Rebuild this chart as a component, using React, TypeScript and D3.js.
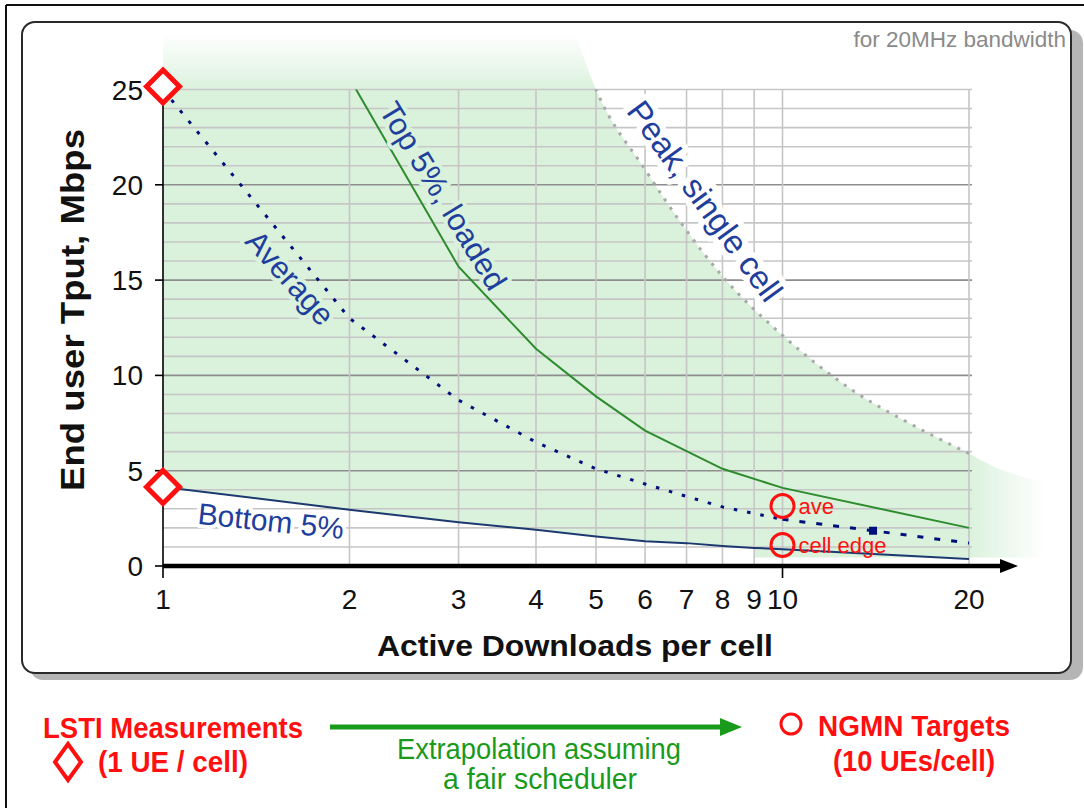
import React from "react";
import * as d3 from "d3";

// ---------- data ----------
const X_TICKS = [1, 2, 3, 4, 5, 6, 7, 8, 9, 10, 20];
const X_GRID = [2, 3, 4, 5, 6, 7, 8, 9, 10, 20];
const Y_TICKS = [0, 5, 10, 15, 20, 25];
const Y_GRID = [1, 2, 3, 4, 5, 6, 7, 8, 9, 10, 11, 12, 13, 14, 15, 16, 17, 18, 19, 20, 21, 22, 23, 24, 25];
const Y_MAJOR = [5, 10, 15, 20];

const avgN = [1, 2, 3, 4, 5, 6, 7, 8, 9, 10, 14, 20];
const avgTput = [25.0, 13.0, 8.7, 6.5, 5.1, 4.3, 3.65, 3.1, 2.75, 2.45, 1.85, 1.2];

const top5N = [2, 3, 4, 5, 6, 8, 10, 20];
const top5Tput = [25.6, 15.7, 11.4, 8.9, 7.1, 5.1, 4.1, 2.0];

const bottom5N = [1, 2, 3, 4, 5, 6, 7, 8, 9, 10, 20];
const bottom5Tput = [4.15, 2.95, 2.3, 1.9, 1.55, 1.3, 1.2, 1.05, 0.95, 0.88, 0.37];

const peakN = [4.62, 5, 6, 7, 8, 10, 13, 16, 20, 22, 25, 27.5];
const peakTput = [28, 25, 20.8, 17.6, 15.2, 12.1, 9.2, 7.5, 5.9, 5.2, 4.6, 4.3];

const envelopeFloorN = [27.5, 9];
const envelopeFloorTput = [0.45, 0.45];

const lstiN = 1;
const lstiValues = [25, 4.15];
const targetN = 10;
const targetValues = [3.15, 1.1];
const targetLabels = ["ave", "cell edge"];
const avgMarkerN = 14;
const avgMarkerTput = 1.85;

const SANS = "'Liberation Sans', Arial, Helvetica, sans-serif";
const NARROW = "'Liberation Sans Narrow', 'Arial Narrow', 'Liberation Sans', sans-serif";
const BLUE_TEXT = "#1f3f9c";
const FILL = "#daf1dc";
const RED = "#ff1010";
const GREEN = "#1a9a1a";

export default function App() {
  const W = 1084;
  const H = 808;
  const x = d3.scaleLog().domain([1, 20]).range([163, 969]);
  const y = d3.scaleLinear().domain([0, 25]).range([566, 89.5]);
  const plotTop = y(25);
  const plotBottom = y(0);
  const plotLeft = x(1);
  const plotRight = x(20);

  const line = d3
    .line<[number, number]>()
    .x((d) => x(d[0]))
    .y((d) => y(d[1]));

  const zip = (a: number[], b: number[]) => a.map((v, i) => [v, b[i]] as [number, number]);

  const avgPts = zip(avgN, avgTput);
  const avgDotted = avgPts.filter((d) => d[0] <= 10);
  const avgDashed = avgPts.filter((d) => d[0] >= 10);
  const top5Pts = zip(top5N, top5Tput);
  const bottomPts = zip(bottom5N, bottom5Tput);
  const peakPts = zip(peakN, peakTput);

  const peakCurve = d3
    .line<[number, number]>()
    .x((d) => x(d[0]))
    .y((d) => y(d[1]))
    .curve(d3.curveMonotoneX)(peakPts) as string;

  const floorPts = zip(envelopeFloorN, envelopeFloorTput);
  const bottomRev = bottomPts.filter((d) => d[0] <= 9).reverse();
  const fillPath =
    `M${x(1)},${y(peakTput[0])}` +
    "L" +
    peakCurve.slice(1) +
    floorPts.map((d) => `L${x(d[0])},${y(d[1])}`).join("") +
    bottomRev.map((d) => `L${x(d[0])},${y(d[1])}`).join("") +
    "Z";

  const peakInPlot = peakPts.filter((d) => d[0] <= 20.5);
  const peakLine = d3
    .line<[number, number]>()
    .x((d) => x(d[0]))
    .y((d) => y(d[1]))
    .curve(d3.curveMonotoneX)(peakInPlot) as string;

  const diamond = (cx: number, cy: number, rx: number, ry: number) =>
    `M${cx},${cy - ry}L${cx + rx},${cy}L${cx},${cy + ry}L${cx - rx},${cy}Z`;

  return (
    <svg
      width={W}
      height={H}
      viewBox={`0 0 ${W} ${H}`}
      style={{ position: "absolute", left: 0, top: 0, display: "block", background: "#fff" }}
      fontFamily={SANS}
    >
      <defs>
        <linearGradient id="gV" gradientUnits="userSpaceOnUse" x1="0" y1="34" x2="0" y2="92">
          <stop offset="0" stopColor="#000" />
          <stop offset="1" stopColor="#fff" />
        </linearGradient>
        <linearGradient id="gH" gradientUnits="userSpaceOnUse" x1="966" y1="0" x2="1046" y2="0">
          <stop offset="0" stopColor="#fff" />
          <stop offset="1" stopColor="#000" />
        </linearGradient>
        <mask id="mV" maskUnits="userSpaceOnUse" x="0" y="0" width={W} height={H}>
          <rect x="0" y="0" width={W} height={H} fill="url(#gV)" />
        </mask>
        <mask id="mH" maskUnits="userSpaceOnUse" x="0" y="0" width={W} height={H}>
          <rect x="0" y="0" width={W} height={H} fill="url(#gH)" />
        </mask>
        <clipPath id="plotClip">
          <rect x={plotLeft} y={plotTop} width={plotRight - plotLeft + 2} height={plotBottom - plotTop} />
        </clipPath>
      </defs>

      {/* outer frame */}
      <line x1={6} y1={5} x2={W} y2={5} stroke="#111" strokeWidth={2} />
      <line x1={6} y1={5} x2={6} y2={H} stroke="#111" strokeWidth={2} />

      {/* panel with shadow */}
      <rect x={30} y={30} width={1053} height={650} rx={13} fill="#b5b5b5" />
      <rect x={22} y={22} width={1049} height={651} rx={13} fill="#fff" stroke="#2a2a2a" strokeWidth={2} />

      <text x={1066} y={47} textAnchor="end" fontSize={22.5} fill="#8a8a8a">
        for 20MHz bandwidth
      </text>

      {/* green envelope */}
      <g mask="url(#mV)">
        <path d={fillPath} fill={FILL} mask="url(#mH)" />
      </g>

      {/* gridlines */}
      <g>
        {Y_GRID.map((v) => (
          <line
            key={"h" + v}
            x1={plotLeft}
            x2={plotRight + 3}
            y1={y(v)}
            y2={y(v)}
            stroke={Y_MAJOR.includes(v) ? "#8e8e8e" : "#c6c6c6"}
            strokeWidth={1.6}
          />
        ))}
        {X_GRID.map((v) => (
          <line key={"v" + v} x1={x(v)} x2={x(v)} y1={plotTop} y2={plotBottom} stroke="#c6c6c6" strokeWidth={1.6} />
        ))}
      </g>

      {/* series */}
      <g clipPath="url(#plotClip)">
        <path d={peakLine} fill="none" stroke="#a9a9a9" strokeWidth={3} strokeDasharray="3 7" />
        <path d={line(top5Pts) as string} fill="none" stroke="#2e8b2e" strokeWidth={2} />
        <path d={line(bottomPts) as string} fill="none" stroke="#1d3a70" strokeWidth={2} />
        <path d={line(avgDotted) as string} fill="none" stroke="#00107a" strokeWidth={3} strokeDasharray="3.5 10" />
        <path d={line(avgDashed) as string} fill="none" stroke="#00107a" strokeWidth={3} strokeDasharray="6 11" />
        <rect x={x(avgMarkerN) - 4} y={y(avgMarkerTput) - 4} width={8} height={8} fill="#00107a" />
      </g>

      {/* series labels */}
      <text
        transform={`translate(705,201) rotate(54)`}
        textAnchor="middle"
        dominantBaseline="central"
        fontSize={33}
        fill={BLUE_TEXT}
        stroke="#fff"
        strokeWidth={12}
        strokeLinejoin="round"
        paintOrder="stroke"
      >
        Peak, single cell
      </text>
      <text
        transform={`translate(443,196) rotate(58.5)`}
        textAnchor="middle"
        dominantBaseline="central"
        fontSize={31}
        fill={BLUE_TEXT}
        stroke={FILL}
        strokeWidth={8}
        strokeLinejoin="round"
        paintOrder="stroke"
      >
        Top 5%, loaded
      </text>
      <text
        transform={`translate(290,278) rotate(48)`}
        textAnchor="middle"
        dominantBaseline="central"
        fontSize={31}
        fill={BLUE_TEXT}
        stroke={FILL}
        strokeWidth={8}
        strokeLinejoin="round"
        paintOrder="stroke"
      >
        Average
      </text>
      <text
        transform={`translate(271,521) rotate(6)`}
        textAnchor="middle"
        dominantBaseline="central"
        fontSize={30}
        fill={BLUE_TEXT}
        stroke="#fff"
        strokeWidth={8}
        strokeLinejoin="round"
        paintOrder="stroke"
      >
        Bottom 5%
      </text>

      {/* axes */}
      <line x1={plotLeft} x2={plotLeft} y1={plotTop} y2={plotBottom} stroke="#000" strokeWidth={1.6} />
      {Y_TICKS.map((v) => (
        <g key={"yt" + v}>
          <line x1={plotLeft - 8} x2={plotLeft} y1={y(v)} y2={y(v)} stroke="#000" strokeWidth={1.6} />
          <text x={143} y={y(v)} dy="0.36em" textAnchor="end" fontSize={28} fill="#111">
            {v}
          </text>
        </g>
      ))}
      <line x1={plotLeft} x2={1003} y1={plotBottom} y2={plotBottom} stroke="#000" strokeWidth={4.5} />
      <path d={`M1000,${plotBottom - 7}L1018,${plotBottom}L1000,${plotBottom + 7}Z`} fill="#000" />
      {[1, 10].map((v) => (
        <line key={"xt" + v} x1={x(v)} x2={x(v)} y1={plotBottom} y2={plotBottom + 12} stroke="#000" strokeWidth={1.6} />
      ))}
      {X_TICKS.map((v) => (
        <text key={"xl" + v} x={x(v)} y={609} textAnchor="middle" fontSize={28} fill="#111">
          {v}
        </text>
      ))}

      {/* axis titles */}
      <text x={575} y={656} textAnchor="middle" fontSize={30} fontWeight="bold" fill="#111" textLength={396} lengthAdjust="spacingAndGlyphs">
        Active Downloads per cell
      </text>
      <text
        transform="translate(84,310) rotate(-90)"
        textAnchor="middle"
        fontSize={33}
        fontWeight="bold"
        fill="#111"
        textLength={362}
        lengthAdjust="spacingAndGlyphs"
      >
        End user Tput, Mbps
      </text>

      {/* LSTI diamonds */}
      {lstiValues.map((v, i) => (
        <path key={"d" + i} d={diamond(x(lstiN), y(v) - (i === 0 ? 3 : 0), 16.5, 16.5)} fill="#fff" stroke={RED} strokeWidth={5} strokeLinejoin="miter" />
      ))}

      {/* NGMN targets */}
      {targetValues.map((v, i) => (
        <g key={"t" + i}>
          <circle cx={x(targetN)} cy={y(v)} r={11.5} fill="none" stroke={RED} strokeWidth={3} />
          <text x={x(targetN) + 16} y={y(v) + 8} fontSize={22} fill={RED}>
            {targetLabels[i]}
          </text>
        </g>
      ))}

      {/* bottom legend */}
      <g fontFamily={NARROW}>
        <text x={43} y={738} fontSize={30} fontWeight="bold" fill={RED} textLength={260} lengthAdjust="spacingAndGlyphs">
          LSTI Measurements
        </text>
        <path d={diamond(68, 762, 13, 18)} fill="none" stroke={RED} strokeWidth={4} />
        <text x={98} y={772} fontSize={30} fontWeight="bold" fill={RED} textLength={150} lengthAdjust="spacingAndGlyphs">
          (1 UE / cell)
        </text>

        <line x1={330} x2={724} y1={727} y2={727} stroke={GREEN} strokeWidth={5} />
        <path d="M720,718L742,727L720,736Z" fill={GREEN} />
        <text x={539} y={759} textAnchor="middle" fontSize={29} fill={GREEN} textLength={284} lengthAdjust="spacingAndGlyphs">
          Extrapolation assuming
        </text>
        <text x={540} y={789} textAnchor="middle" fontSize={29} fill={GREEN} textLength={194} lengthAdjust="spacingAndGlyphs">
          a fair scheduler
        </text>

        <circle cx={791} cy={724} r={10} fill="none" stroke={RED} strokeWidth={3} />
        <text x={818} y={736} fontSize={30} fontWeight="bold" fill={RED} textLength={192} lengthAdjust="spacingAndGlyphs">
          NGMN Targets
        </text>
        <text x={833} y={771} fontSize={30} fontWeight="bold" fill={RED} textLength={162} lengthAdjust="spacingAndGlyphs">
          (10 UEs/cell)
        </text>
      </g>
    </svg>
  );
}
